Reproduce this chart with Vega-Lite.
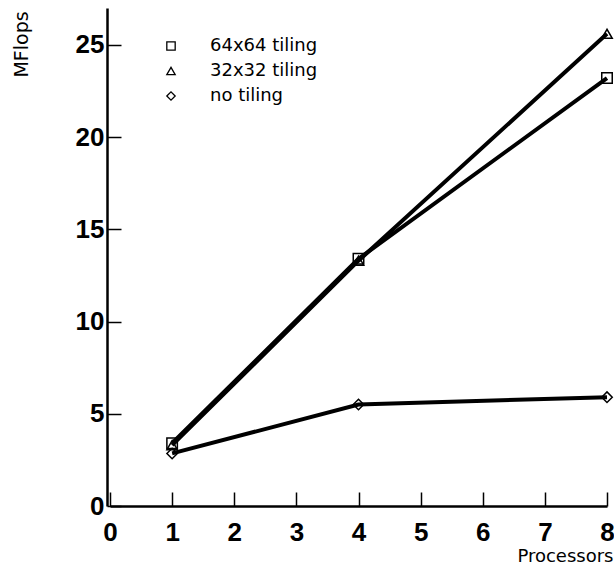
{
  "$schema": "https://vega.github.io/schema/vega-lite/v6.json",
  "width": 497,
  "height": 498,
  "autosize": {"type": "none"},
  "padding": {"left": 110, "top": 8, "right": 7, "bottom": 64},
  "background": "white",
  "data": {
    "values": [
      {"series": "64x64 tiling", "processors": 1, "mflops": 3.4},
      {"series": "64x64 tiling", "processors": 4, "mflops": 13.4},
      {"series": "64x64 tiling", "processors": 8, "mflops": 23.2},
      {"series": "32x32 tiling", "processors": 1, "mflops": 3.3},
      {"series": "32x32 tiling", "processors": 4, "mflops": 13.3},
      {"series": "32x32 tiling", "processors": 8, "mflops": 25.6},
      {"series": "no tiling", "processors": 1, "mflops": 2.85},
      {"series": "no tiling", "processors": 4, "mflops": 5.5},
      {"series": "no tiling", "processors": 8, "mflops": 5.9}
    ]
  },
  "encoding": {
    "x": {
      "field": "processors", "type": "quantitative",
      "scale": {"domain": [0, 8], "nice": false},
      "axis": {
        "values": [0, 1, 2, 3, 4, 5, 6, 7, 8],
        "title": "Processors",
        "titleFont": "DejaVu Sans", "titleFontSize": 18, "titleFontWeight": "normal", "titleColor": "black",
        "titleAnchor": "end", "titleAlign": "right", "titleBaseline": "alphabetic",
        "titleX": 503, "titleY": 55,
        "labelFont": "Liberation Sans", "labelFontSize": 26, "labelFontWeight": "bold", "labelColor": "black",
        "labelPadding": 27, "labelFlush": false,
        "tickSize": -14, "tickColor": "black", "tickWidth": 1.5,
        "domainColor": "black", "domainWidth": 2.5, "grid": false
      }
    },
    "y": {
      "field": "mflops", "type": "quantitative",
      "scale": {"domain": [0, 27], "nice": false},
      "axis": {
        "values": [0, 5, 10, 15, 20, 25],
        "offset": 3,
        "title": "MFlops",
        "titleFont": "DejaVu Sans", "titleFontSize": 19, "titleFontWeight": "normal", "titleColor": "black",
        "titleAngle": 270, "titleAlign": "center", "titleBaseline": "middle",
        "titleX": -86, "titleY": 36,
        "labelFont": "Liberation Sans", "labelFontSize": 26, "labelFontWeight": "bold", "labelColor": "black",
        "labelPadding": 17, "labelFlush": false,
        "tickSize": -14, "tickColor": "black", "tickWidth": 1.5,
        "domainColor": "black", "domainWidth": 2.5, "grid": false
      }
    }
  },
  "layer": [
    {
      "mark": {"type": "line", "color": "black", "strokeWidth": 4},
      "encoding": {"detail": {"field": "series"}}
    },
    {
      "mark": {"type": "point", "filled": false, "color": "black", "strokeWidth": 1.5, "size": 110, "opacity": 1},
      "encoding": {
        "shape": {
          "field": "series", "type": "nominal",
          "scale": {"domain": ["64x64 tiling", "32x32 tiling", "no tiling"], "range": ["square", "triangle-up", "diamond"]},
          "legend": {
            "orient": "none", "legendX": 52, "legendY": 29,
            "title": null,
            "labelFont": "DejaVu Sans", "labelFontSize": 18, "labelColor": "black",
            "labelOffset": 30, "rowPadding": 7,
            "symbolSize": 70, "symbolStrokeColor": "black", "symbolStrokeWidth": 1.3, "symbolFillColor": "transparent"
          }
        }
      }
    }
  ],
  "config": {"view": {"stroke": null}}
}
